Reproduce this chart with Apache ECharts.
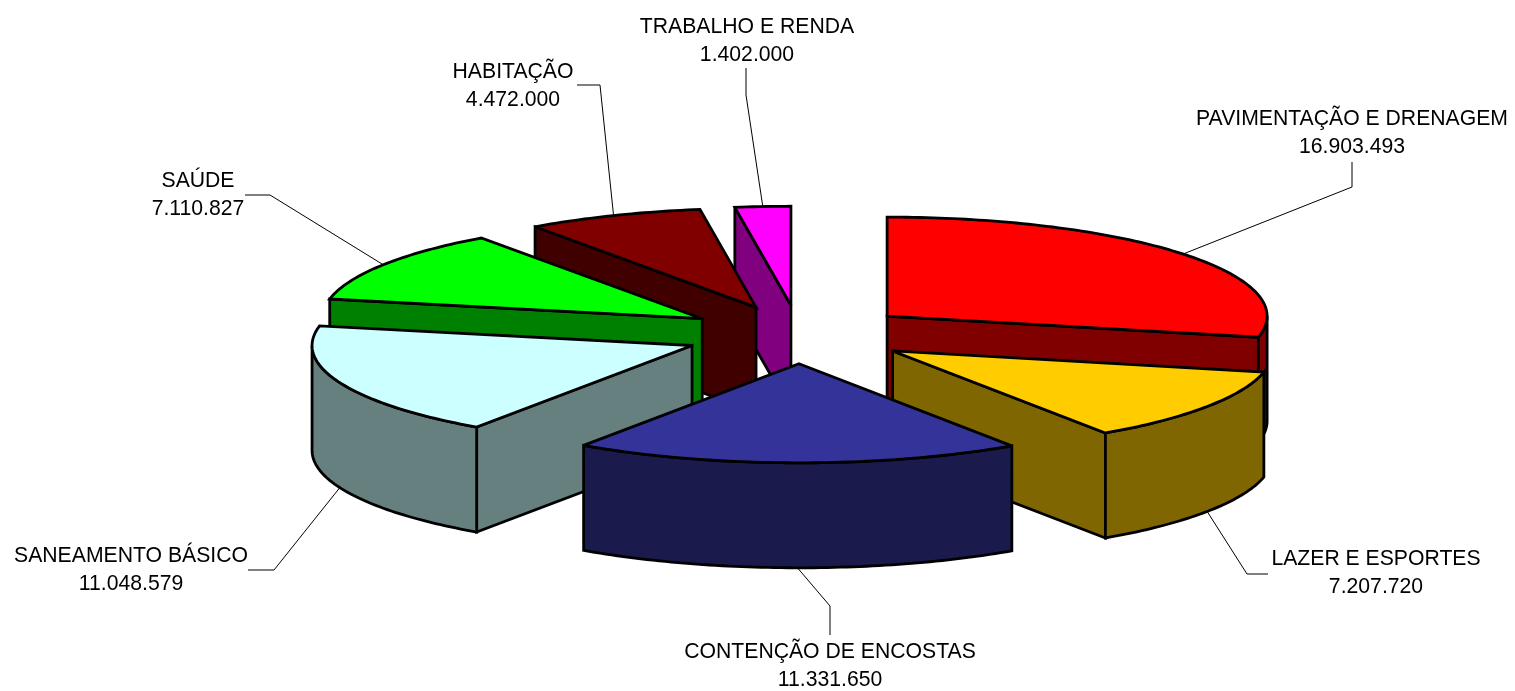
<!DOCTYPE html>
<html>
<head>
<meta charset="utf-8">
<style>
  html, body { margin: 0; padding: 0; background: #fff; }
  #chart { width: 1515px; height: 691px; }
</style>
<script src="https://cdn.jsdelivr.net/npm/echarts@6/dist/echarts.min.js"></script>
</head>
<body>
<div id="chart"></div>
<script>
// dados do grafico
const categories = [
  "PAVIMENTAÇÃO E DRENAGEM",
  "LAZER E ESPORTES",
  "CONTENÇÃO DE ENCOSTAS",
  "SANEAMENTO BÁSICO",
  "SAÚDE",
  "HABITAÇÃO",
  "TRABALHO E RENDA",
];
const values = [16903493, 7207720, 11331650, 11048579, 7110827, 4472000, 1402000];
const valueLabels = ["16.903.493", "7.207.720", "11.331.650", "11.048.579", "7.110.827", "4.472.000", "1.402.000"];
const topColors = ["#ff0000", "#ffcc00", "#333399", "#ccffff", "#00ff00", "#800000", "#ff00ff"];
const sideColors = ["#800000", "#806600", "#1a1a4d", "#668080", "#008000", "#400000", "#800080"];

// geometria da pizza 3D (o lado esquerdo abre um pouco mais no original)
const pie = { cx: 799.5, cy: 334.5, rx: 380, ry: 99, depth: 105, explodeRight: 0.296, explodeLeft: 0.305, explodeY: 0.296 };
// cotovelo da linha guia e centro do rotulo
const leaderElbows = [[1352, 187], [1247, 574], [830, 606], [274, 570], [270, 195], [600, 85], [746, 95]];
const leaderEnds = [[1352, 162], [1268, 574], [830, 635], [248, 570], [245, 195], [577, 85], [746, 68]];
const labelCenters = [[1352, 133], [1376, 573], [830, 666], [131, 570], [198, 195], [513, 86], [747, 41]];

const total = values.reduce((a, b) => a + b, 0);
const rad = (d) => (d * Math.PI) / 180;

// angulos acumulados a partir das 12 horas, sentido horario
let acc = 0;
const slices = values.map((v, i) => {
  const start = (acc / total) * 360;
  acc += v;
  const end = (acc / total) * 360;
  const mid = (start + end) / 2;
  const sx = Math.sin(rad(mid));
  return {
    index: i,
    start,
    end,
    mid,
    ax: pie.cx + (sx < 0 ? pie.explodeLeft : pie.explodeRight) * pie.rx * sx,
    ay: pie.cy - pie.explodeY * pie.ry * Math.cos(rad(mid)),
  };
});

const rimPoint = (s, deg, drop) => [
  s.ax + pie.rx * Math.sin(rad(deg)),
  s.ay - pie.ry * Math.cos(rad(deg)) + (drop || 0),
];

const arcPoints = (s, a, b, drop) => {
  const pts = [];
  const n = Math.max(2, Math.ceil(Math.abs(b - a)));
  for (let k = 0; k <= n; k++) pts.push(rimPoint(s, a + ((b - a) * k) / n, drop));
  return pts;
};

const stroke = { stroke: "#000", lineWidth: 2.8, lineJoin: "miter", miterLimit: 3 };

const poly = (points, fill) => ({
  type: "polygon",
  shape: { points },
  style: Object.assign({ fill }, stroke),
});

// fatias de tras para a frente
const drawOrder = slices.slice().sort((a, b) => a.ay - b.ay);

function renderSlice(params) {
  const s = drawOrder[params.dataIndex];
  const side = sideColors[s.index];
  const top = topColors[s.index];
  const apex = [s.ax, s.ay];
  const children = [];

  // parede interna virada para o observador
  const wallAngle = s.start >= 180 ? s.start : s.end < 180 ? s.end : null;
  if (wallAngle !== null) {
    const rim = rimPoint(s, wallAngle);
    const rimLow = rimPoint(s, wallAngle, pie.depth);
    children.push(poly([apex, rim, rimLow, [s.ax, s.ay + pie.depth]], side));
  }
  // lateral curva, so a parte entre 90 e 270 graus aparece
  const a = Math.max(s.start, 90);
  const b = Math.min(s.end, 270);
  if (b > a) {
    children.push(poly(arcPoints(s, a, b, 0).concat(arcPoints(s, b, a, pie.depth)), side));
  }
  // tampo
  children.push(poly([apex].concat(arcPoints(s, s.start, s.end, 0)), top));
  return { type: "group", children };
}

function renderLabel(params) {
  const i = params.dataIndex;
  const s = slices[i];
  const drop = Math.cos(rad(s.mid)) < 0 ? pie.depth : 0;
  return {
    type: "group",
    children: [
      {
        type: "polyline",
        shape: { points: [rimPoint(s, s.mid, drop), leaderElbows[i], leaderEnds[i]] },
        style: { stroke: "#000", lineWidth: 1, fill: null },
      },
      {
        type: "text",
        x: labelCenters[i][0],
        y: labelCenters[i][1],
        style: {
          text: categories[i] + "\n" + valueLabels[i],
          fill: "#000",
          font: '21.2px "Liberation Sans", Arial, sans-serif',
          lineHeight: 28,
          align: "center",
          verticalAlign: "middle",
        },
      },
    ],
  };
}

const chart = echarts.init(document.getElementById("chart"), null, { renderer: "canvas" });
chart.setOption({
  animation: false,
  backgroundColor: "#fff",
  series: [
    {
      type: "custom",
      coordinateSystem: "none",
      data: drawOrder.map((s) => values[s.index]),
      renderItem: renderSlice,
      silent: true,
      z: 2,
    },
    {
      type: "custom",
      coordinateSystem: "none",
      data: values,
      renderItem: renderLabel,
      silent: true,
      z: 1,
    },
  ],
});
</script>
</body>
</html>
